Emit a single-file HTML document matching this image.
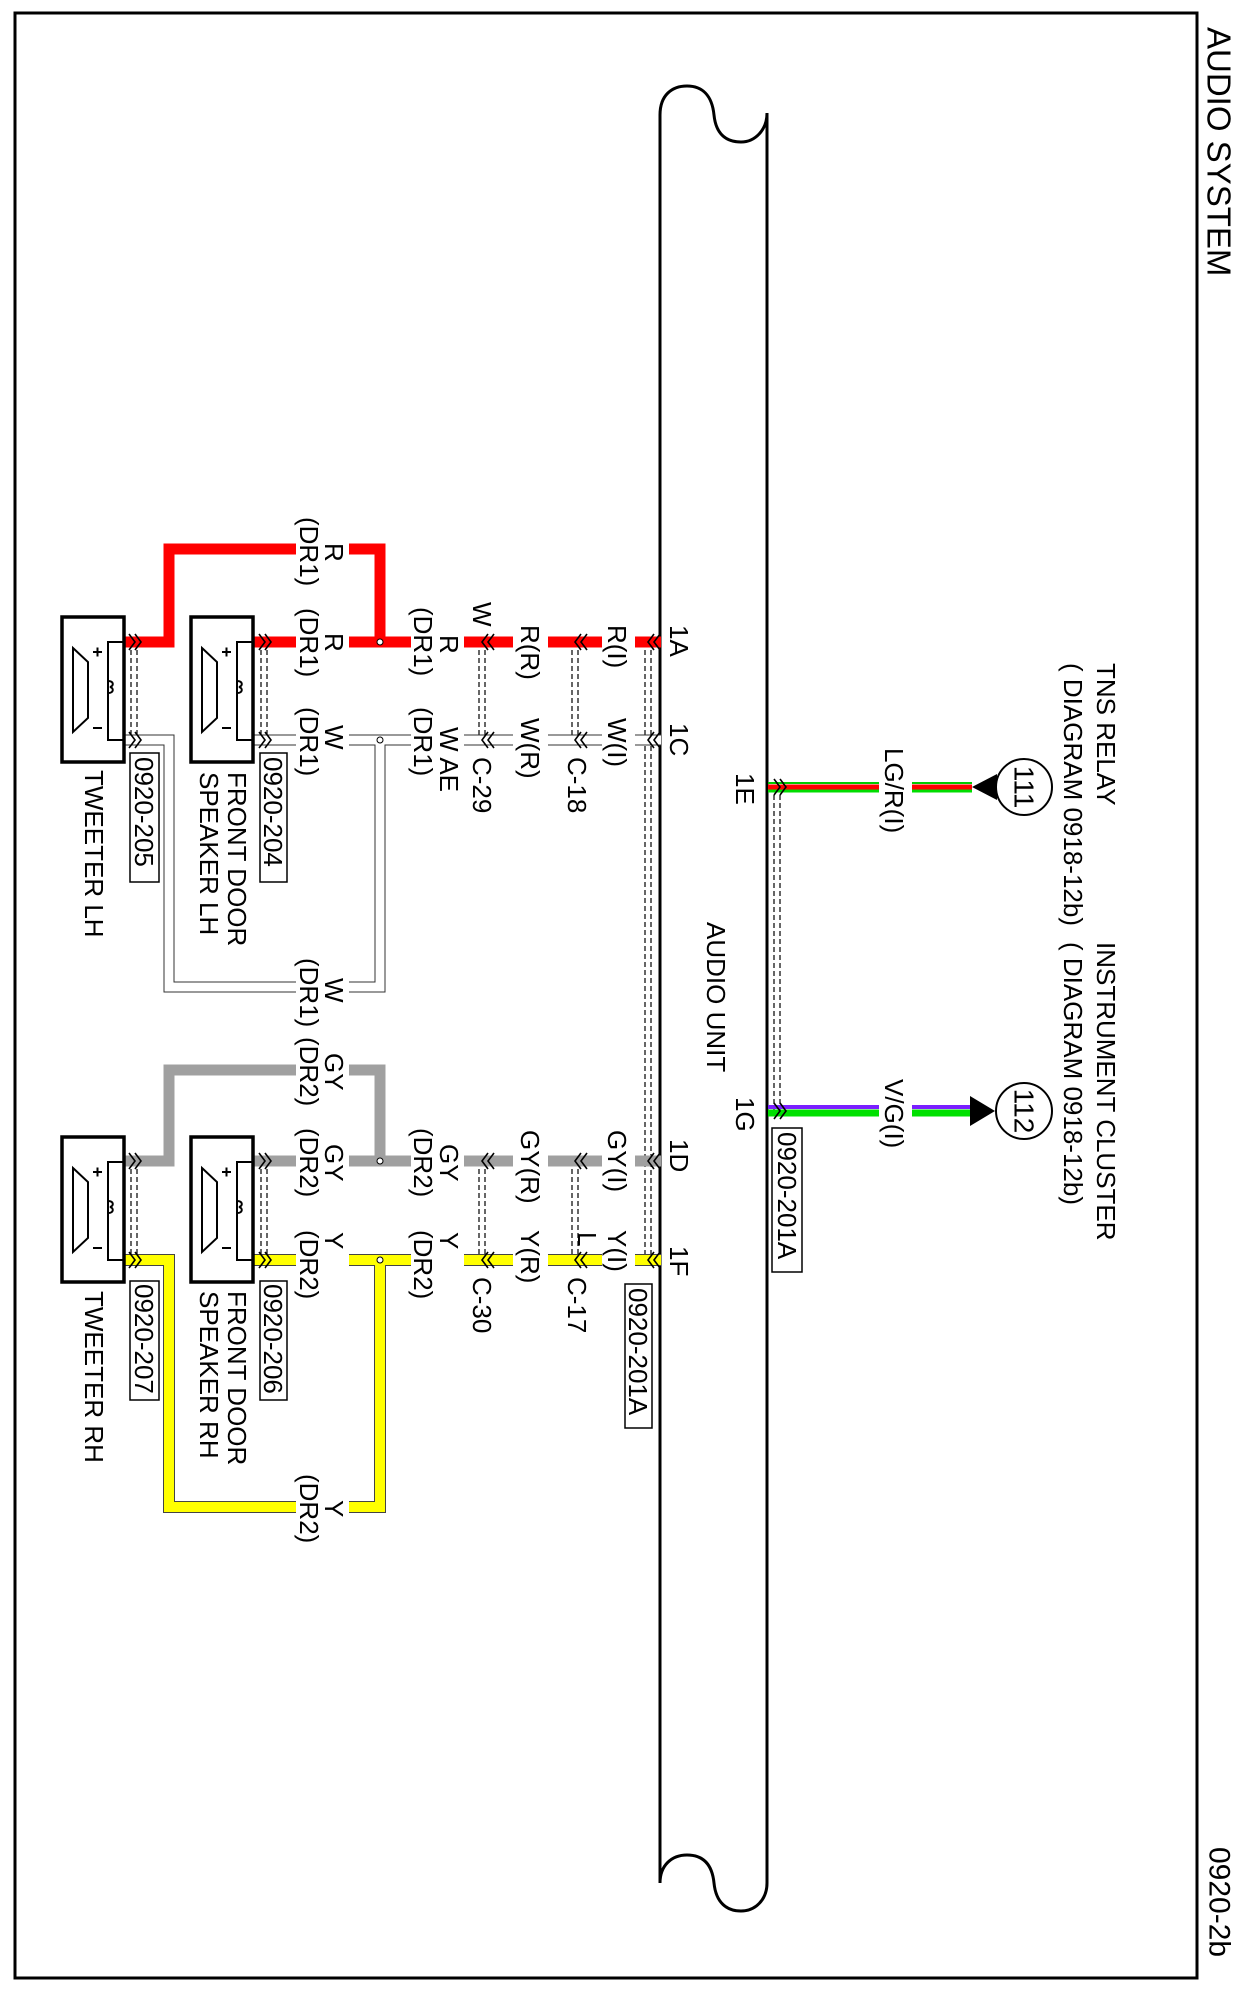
<!DOCTYPE html>
<html><head><meta charset="utf-8"><style>
html,body{margin:0;padding:0;background:#fff}
svg{display:block}
text{font-family:"Liberation Sans",Arial,sans-serif;font-size:26px;fill:#000}
</style></head><body>
<svg width="1239" height="1998" viewBox="0 0 1239 1998" xmlns="http://www.w3.org/2000/svg">
<rect x="15" y="13" width="1182" height="1965" fill="none" stroke="#000" stroke-width="3"/>
<path d="M660,1883 L660,115 C660,95 672,86 687,86 C702,86 712,95 714,115 C716,135 727,142 741,142 C755,142 767,130 767,113 L767,1883 C767,1900 755,1911 741,1911 C727,1911 716,1903 714,1883 C712,1863 702,1855 687,1855 C672,1855 660,1865 660,1883" fill="none" stroke="#000" stroke-width="3"/>

<g stroke="#000" stroke-width="1.2" stroke-dasharray="5,3" fill="none">
<path d="M645,642V1260M651,642V1260"/>
<path d="M774,787V1111M780,787V1111"/>
<path d="M572,642V740M578,642V740M572,1161V1260M578,1161V1260"/>
<path d="M479,642V740M485,642V740M479,1161V1260M485,1161V1260"/>
<path d="M261,642V740M267,642V740M261,1161V1260M267,1161V1260"/>
<path d="M131,642V740M137,642V740M131,1161V1260M137,1161V1260"/>
</g>

<g fill="none" stroke-linejoin="miter">
<path d="M661,642H254M124,642H169V549H380V642" stroke="#ff0000" stroke-width="11"/>
<path d="M661,740H254M124,740H169V987H380V740" stroke="#333" stroke-width="11"/>
<path d="M661,740H254M124,740H169V987H380V740" stroke="#fff" stroke-width="9"/>
<path d="M661,1161H254M124,1161H169V1070H380V1161" stroke="#a0a0a0" stroke-width="11"/>
<path d="M661,1260H254M124,1260H169V1507H380V1260" stroke="#444" stroke-width="12"/>
<path d="M661,1260H254M124,1260H169V1507H380V1260" stroke="#ffff00" stroke-width="10"/>
<path d="M768,783H972" stroke="#00cc00" stroke-width="2"/>
<path d="M768,787H972" stroke="#ff0000" stroke-width="5"/>
<path d="M768,791H972" stroke="#00dd00" stroke-width="3"/>
<path d="M768,1107H972" stroke="#7a1fff" stroke-width="4"/>
<path d="M768,1113H972" stroke="#00e000" stroke-width="7"/>
</g>

<g fill="#fff">
<rect x="602" y="634" width="33" height="16"/><rect x="513" y="634" width="35" height="16"/><rect x="411" y="634" width="53" height="16"/><rect x="296" y="634" width="53" height="16"/>
<rect x="602" y="732" width="33" height="16"/><rect x="513" y="732" width="35" height="16"/><rect x="411" y="732" width="53" height="16"/><rect x="296" y="732" width="53" height="16"/>
<rect x="602" y="1153" width="33" height="16"/><rect x="513" y="1153" width="35" height="16"/><rect x="411" y="1153" width="53" height="16"/><rect x="296" y="1153" width="53" height="16"/>
<rect x="602" y="1252" width="33" height="16"/><rect x="513" y="1252" width="35" height="16"/><rect x="411" y="1252" width="53" height="16"/><rect x="296" y="1252" width="53" height="16"/>
<rect x="296" y="541" width="53" height="16"/><rect x="296" y="979" width="53" height="16"/>
<rect x="296" y="1062" width="53" height="16"/><rect x="296" y="1499" width="53" height="16"/>
<rect x="879" y="779" width="33" height="16"/><rect x="879" y="1103" width="33" height="16"/>
</g>

<g fill="#fff" stroke="#000" stroke-width="1"><circle cx="380" cy="642" r="3"/><circle cx="380" cy="740" r="3"/><circle cx="380" cy="1161" r="3"/><circle cx="380" cy="1260" r="3"/></g>

<g fill="none" stroke="#000" stroke-width="1.6">
<path d="M654,634L648,642L654,650M660,634L654,642L660,650"/>
<path d="M654,732L648,740L654,748M660,732L654,740L660,748"/>
<path d="M654,1153L648,1161L654,1169M660,1153L654,1161L660,1169"/>
<path d="M654,1252L648,1260L654,1268M660,1252L654,1260L660,1268"/>
<path d="M581,634L575,642L581,650M587,634L581,642L587,650"/>
<path d="M581,732L575,740L581,748M587,732L581,740L587,748"/>
<path d="M581,1153L575,1161L581,1169M587,1153L581,1161L587,1169"/>
<path d="M581,1252L575,1260L581,1268M587,1252L581,1260L587,1268"/>
<path d="M488,634L482,642L488,650M494,634L488,642L494,650"/>
<path d="M488,732L482,740L488,748M494,732L488,740L494,748"/>
<path d="M488,1153L482,1161L488,1169M494,1153L488,1161L494,1169"/>
<path d="M488,1252L482,1260L488,1268M494,1252L488,1260L494,1268"/>
<path d="M259,634L265,642L259,650M265,634L271,642L265,650"/>
<path d="M259,732L265,740L259,748M265,732L271,740L265,748"/>
<path d="M259,1153L265,1161L259,1169M265,1153L271,1161L265,1169"/>
<path d="M259,1252L265,1260L259,1268M265,1252L271,1260L265,1268"/>
<path d="M129,634L135,642L129,650M135,634L141,642L135,650"/>
<path d="M129,732L135,740L129,748M135,732L141,740L135,748"/>
<path d="M129,1153L135,1161L129,1169M135,1153L141,1161L135,1169"/>
<path d="M129,1252L135,1260L129,1268M135,1252L141,1260L135,1268"/>
<path d="M774,779L780,787L774,795M780,779L786,787L780,795"/>
<path d="M774,1103L780,1111L774,1119M780,1103L786,1111L780,1119"/>
</g>

<g fill="#fff" stroke="#000">
<g id="spk">
<rect x="62" y="617" width="62" height="145" stroke-width="3.5"/>
<path d="M124,642H108V740H124" fill="none" stroke-width="2"/>
<path d="M73,648L88,662V718L73,732Z" fill="none" stroke-width="2"/>
<path d="M108,681c6,0 6,5 2,6c4,1 4,6 -2,6" fill="none" stroke-width="2"/>
<path d="M93,652h9M97.5,647.5v9M93,728h9" stroke-width="2"/>
</g>
<use href="#spk" x="129"/>
<use href="#spk" y="520"/>
<use href="#spk" x="129" y="520"/>
</g>

<g fill="#fff" stroke="#000" stroke-width="1.5">
<rect x="130" y="753" width="29" height="129"/><rect x="260" y="753" width="27" height="129"/>
<rect x="130" y="1281" width="29" height="119"/><rect x="260" y="1281" width="27" height="119"/>
<rect x="625" y="1284" width="27" height="144"/><rect x="772" y="1128" width="30" height="144"/>
</g>

<circle cx="1024" cy="787" r="28" fill="#fff" stroke="#000" stroke-width="2"/>
<circle cx="1024" cy="1111" r="28" fill="#fff" stroke="#000" stroke-width="2"/>
<path d="M972,787L997,774V800Z" fill="#000"/>
<path d="M970,1096L995,1111L970,1126Z" fill="#000"/>

<g dominant-baseline="central">
<text x="1219" y="27" transform="rotate(90 1219 27)" style="font-size:33px">AUDIO SYSTEM</text>
<text x="1219" y="1847" transform="rotate(90 1219 1847)" style="font-size:30px">0920-2b</text>
<text x="1106" y="663" transform="rotate(90 1106 663)">TNS RELAY</text>
<text x="1073" y="663" transform="rotate(90 1073 663)">( DIAGRAM 0918-12b)</text>
<text x="1106" y="942" transform="rotate(90 1106 942)">INSTRUMENT CLUSTER</text>
<text x="1073" y="942" transform="rotate(90 1073 942)">( DIAGRAM 0918-12b)</text>
<text x="1024" y="787" transform="rotate(90 1024 787)" text-anchor="middle" style="font-size:28px">111</text>
<text x="1024" y="1111" transform="rotate(90 1024 1111)" text-anchor="middle" style="font-size:28px">112</text>
<text x="894" y="748" transform="rotate(90 894 748)">LG/R(I)</text>
<text x="894" y="1079" transform="rotate(90 894 1079)">V/G(I)</text>
<text x="745" y="773" transform="rotate(90 745 773)">1E</text>
<text x="745" y="1097" transform="rotate(90 745 1097)">1G</text>
<text x="716" y="922" transform="rotate(90 716 922)">AUDIO UNIT</text>
<text x="787" y="1132" transform="rotate(90 787 1132)">0920-201A</text>
<text x="638" y="1288" transform="rotate(90 638 1288)">0920-201A</text>
<text x="679" y="625" transform="rotate(90 679 625)">1A</text>
<text x="679" y="723" transform="rotate(90 679 723)">1C</text>
<text x="679" y="1139" transform="rotate(90 679 1139)">1D</text>
<text x="679" y="1246" transform="rotate(90 679 1246)">1F</text>
<text x="617" y="625" transform="rotate(90 617 625)">R(I)</text>
<text x="617" y="718" transform="rotate(90 617 718)">W(I)</text>
<text x="617" y="1130" transform="rotate(90 617 1130)">GY(I)</text>
<text x="617" y="1230" transform="rotate(90 617 1230)">Y(I)</text>
<text x="587" y="1232" transform="rotate(90 587 1232)">L</text>
<text x="530" y="625" transform="rotate(90 530 625)">R(R)</text>
<text x="530" y="718" transform="rotate(90 530 718)">W(R)</text>
<text x="530" y="1130" transform="rotate(90 530 1130)">GY(R)</text>
<text x="530" y="1230" transform="rotate(90 530 1230)">Y(R)</text>
<text x="577" y="757" transform="rotate(90 577 757)">C-18</text>
<text x="577" y="1277" transform="rotate(90 577 1277)">C-17</text>
<text x="482" y="757" transform="rotate(90 482 757)">C-29</text>
<text x="482" y="1277" transform="rotate(90 482 1277)">C-30</text>
<text x="482" y="602" transform="rotate(90 482 602)">W</text>
<text x="449" y="635" transform="rotate(90 449 635)">R</text>
<text x="423" y="607" transform="rotate(90 423 607)">(DR1)</text>
<text x="449" y="727" transform="rotate(90 449 727)">W AE</text>
<text x="423" y="707" transform="rotate(90 423 707)">(DR1)</text>
<text x="449" y="1144" transform="rotate(90 449 1144)">GY</text>
<text x="423" y="1128" transform="rotate(90 423 1128)">(DR2)</text>
<text x="449" y="1232" transform="rotate(90 449 1232)">Y</text>
<text x="423" y="1230" transform="rotate(90 423 1230)">(DR2)</text>
<text x="334" y="633" transform="rotate(90 334 633)">R</text>
<text x="309" y="608" transform="rotate(90 309 608)">(DR1)</text>
<text x="334" y="725" transform="rotate(90 334 725)">W</text>
<text x="309" y="707" transform="rotate(90 309 707)">(DR1)</text>
<text x="334" y="543" transform="rotate(90 334 543)">R</text>
<text x="309" y="517" transform="rotate(90 309 517)">(DR1)</text>
<text x="334" y="978" transform="rotate(90 334 978)">W</text>
<text x="309" y="958" transform="rotate(90 309 958)">(DR1)</text>
<text x="334" y="1144" transform="rotate(90 334 1144)">GY</text>
<text x="309" y="1128" transform="rotate(90 309 1128)">(DR2)</text>
<text x="334" y="1053" transform="rotate(90 334 1053)">GY</text>
<text x="309" y="1037" transform="rotate(90 309 1037)">(DR2)</text>
<text x="334" y="1232" transform="rotate(90 334 1232)">Y</text>
<text x="309" y="1230" transform="rotate(90 309 1230)">(DR2)</text>
<text x="334" y="1500" transform="rotate(90 334 1500)">Y</text>
<text x="309" y="1474" transform="rotate(90 309 1474)">(DR2)</text>
<text x="273" y="757" transform="rotate(90 273 757)">0920-204</text>
<text x="144" y="757" transform="rotate(90 144 757)">0920-205</text>
<text x="273" y="1284" transform="rotate(90 273 1284)">0920-206</text>
<text x="144" y="1284" transform="rotate(90 144 1284)">0920-207</text>
<text x="237" y="772" transform="rotate(90 237 772)">FRONT DOOR</text>
<text x="209" y="772" transform="rotate(90 209 772)">SPEAKER LH</text>
<text x="94" y="770" transform="rotate(90 94 770)">TWEETER LH</text>
<text x="237" y="1291" transform="rotate(90 237 1291)">FRONT DOOR</text>
<text x="209" y="1291" transform="rotate(90 209 1291)">SPEAKER RH</text>
<text x="94" y="1291" transform="rotate(90 94 1291)">TWEETER RH</text>
</g>
</svg>
</body></html>
